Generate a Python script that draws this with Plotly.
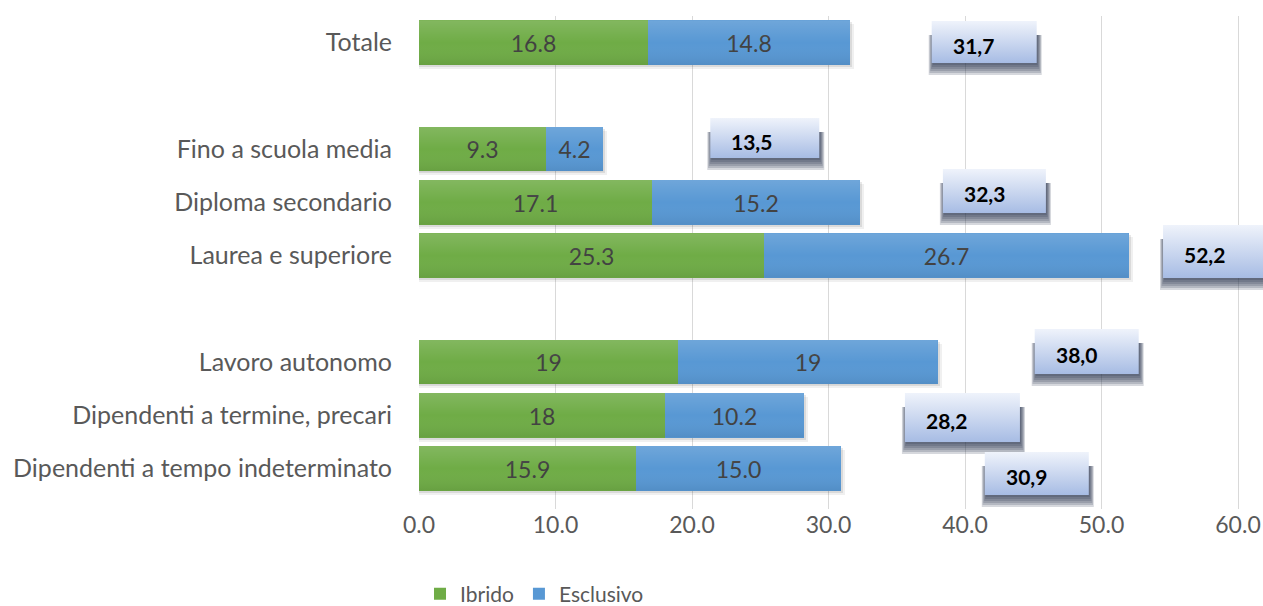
import plotly.graph_objects as go

# ---- data -------------------------------------------------------------
categorie = [
    "Totale",
    "Fino a scuola media",
    "Diploma secondario",
    "Laurea e superiore",
    "Lavoro autonomo",
    "Dipendenti a termine, precari",
    "Dipendenti a tempo indeterminato",
]
ibrido_txt = ["16.8", "9.3", "17.1", "25.3", "19", "18", "15.9"]
esclusivo_txt = ["14.8", "4.2", "15.2", "26.7", "19", "10.2", "15.0"]
totale = [31.7, 13.5, 32.3, 52.2, 38.0, 28.2, 30.9]
tick_x = [0, 10, 20, 30, 40, 50, 60]

ibrido = [float(s) for s in ibrido_txt]
esclusivo = [float(s) for s in esclusivo_txt]
somma = [a + b for a, b in zip(ibrido, esclusivo)]

# ---- layout geometry ---------------------------------------------------
W, H = 1263, 606
PLOT_L, PLOT_T = 419, 16
SLOT = 53.22          # px per row slot
X_PX = 13.65          # px per x unit
EXTRA = 14            # px of room below the last row (for box shadows)
N_SLOTS = 9
righe = [0, 2, 3, 4, 6, 7, 8]   # row slots (blank slots separate groups)
BAR_W = 0.84

plot_h = N_SLOTS * SLOT + EXTRA
x_max = (W - PLOT_L) / X_PX
y_bottom = N_SLOTS - 0.5 + EXTRA / SLOT

GREEN = "#6fac46"
BLUE = "#5898d4"
FONT = "Lato"

# label boxes, in px
box_gap = [80, 107, 83, 31.5, 97, 101, 144]
box_w = [105, 109, 103, 105, 104, 115, 104]
box_h = [42, 40, 44, 53, 45, 49, 43]
box_dy = [-0.6, -11, -11.3, -4, -10.5, 2.3, 5.1]


def rect(x0, x1, y0, y1):
    return [x0, x1, x1, x0, x0], [y0, y0, y1, y1, y0]


fig = go.Figure()

# soft shadow behind the bars
for dpx, alpha in [(4, 0.06), (2, 0.09)]:
    fig.add_bar(
        y=[r + dpx / SLOT for r in righe],
        x=[s + dpx / X_PX for s in somma],
        base=0, orientation="h", width=BAR_W,
        marker=dict(color=f"rgba(0,0,0,{alpha})", line_width=0),
        hoverinfo="skip", showlegend=False,
    )

bar_font = dict(family=FONT, size=23, color="#404040")
fig.add_bar(
    y=righe, x=ibrido, base=0, orientation="h", width=BAR_W, name="Ibrido",
    marker=dict(color=GREEN, line_width=0),
    text=ibrido_txt, textposition="inside", insidetextanchor="middle",
    textangle=0, textfont=bar_font,
)
fig.add_bar(
    y=righe, x=esclusivo, base=ibrido, orientation="h", width=BAR_W,
    name="Esclusivo",
    marker=dict(color=BLUE, line_width=0),
    text=esclusivo_txt, textposition="inside", insidetextanchor="middle",
    textangle=0, textfont=bar_font,
)

# light sheen over each bar: brighter at the top, darker at the bottom
for r, s in zip(righe, somma):
    yt, yb = r - BAR_W / 2, r + BAR_W / 2
    xs, ys = rect(0, s, yt, yb)
    fig.add_scatter(
        x=xs, y=ys, mode="lines", fill="toself", line_width=0,
        fillgradient=dict(
            type="vertical", start=yb, stop=yt,
            colorscale=[[0, "rgba(0,0,0,0.07)"], [0.5, "rgba(255,255,255,0)"],
                        [1, "rgba(255,255,255,0.14)"]],
        ),
        hoverinfo="skip", showlegend=False,
    )

annotations = []
for i, r in enumerate(righe):
    xl = totale[i] + box_gap[i] / X_PX
    xr = xl + box_w[i] / X_PX
    yc = r + box_dy[i] / SLOT
    yt = yc - box_h[i] / 2 / SLOT
    yb = yc + box_h[i] / 2 / SLOT
    # blurred drop shadow, built from stacked translucent layers
    for k in range(6):
        xs, ys = rect(xl + (1 - 0.8 * k) / X_PX, xr + (1 + 0.8 * k) / X_PX,
                      yt + 14 / SLOT, yb + (2 + 2 * k) / SLOT)
        fig.add_scatter(
            x=xs, y=ys, mode="lines", fill="toself", line_width=0,
            fillcolor="rgba(36,48,76,0.19)", hoverinfo="skip", showlegend=False,
        )
    xs, ys = rect(xl, xr, yt, yb)
    fig.add_scatter(
        x=xs, y=ys, mode="lines", fill="toself", line_width=0,
        fillgradient=dict(
            type="vertical", start=yb, stop=yt,
            colorscale=[[0, "#a7bce4"], [1, "#eff3fb"]],
        ),
        hoverinfo="skip", showlegend=False,
    )
    annotations.append(dict(
        x=xl, y=yc, xref="x", yref="y", xanchor="left", yanchor="middle",
        xshift=19, yshift=-3, showarrow=False,
        text=f"{totale[i]:.1f}".replace(".", ","),
        font=dict(family=FONT, size=21, color="#000000", weight=700),
    ))

fig.update_layout(
    width=W, height=H,
    margin=dict(l=PLOT_L, r=0, t=PLOT_T, b=H - PLOT_T - plot_h, pad=0,
                autoexpand=False),
    paper_bgcolor="white", plot_bgcolor="white",
    barmode="overlay", bargap=0,
    font=dict(family=FONT, color="#595959"),
    annotations=annotations,
    shapes=[dict(
        type="rect", xref="paper", x0=0, x1=1, yref="y",
        y0=N_SLOTS - 0.5, y1=y_bottom, fillcolor="white",
        line_width=0, layer="between",
    )],
    xaxis=dict(
        range=[0, x_max], tickvals=tick_x,
        ticktext=[f"{t:.1f}" for t in tick_x],
        showgrid=True, gridcolor="#d9d9d9", gridwidth=1,
        zeroline=False, showline=False, ticks="",
        ticklabelstandoff=0,
        tickfont=dict(family=FONT, size=23, color="#595959"),
    ),
    yaxis=dict(
        range=[y_bottom, -0.5], tickvals=righe, ticktext=categorie,
        showgrid=False, zeroline=False, showline=False, ticks="",
        ticklabelstandoff=26,
        tickfont=dict(family=FONT, size=25, color="#595959"),
    ),
    legend=dict(
        orientation="h", x=0.0012, y=-(594 - (PLOT_T + plot_h)) / plot_h,
        xanchor="left", yanchor="middle",
        font=dict(family=FONT, size=21, color="#595959"),
        traceorder="normal",
    ),
)

fig.write_html("out.html")
